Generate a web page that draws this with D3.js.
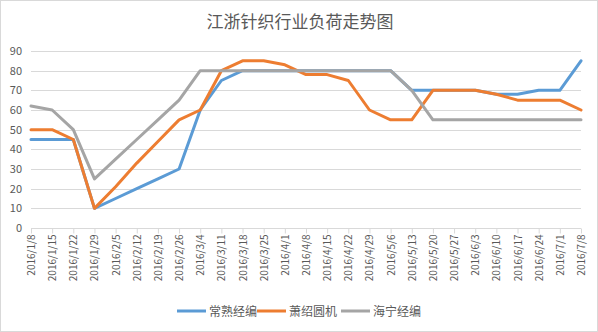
<!DOCTYPE html>
<html><head><meta charset="utf-8">
<script src="https://cdn.jsdelivr.net/npm/d3@7/dist/d3.min.js"></script>
<style>body{margin:0;background:#fff}svg{display:block;font-family:"Microsoft YaHei","Noto Sans CJK SC",sans-serif}</style>
</head><body><svg id="c" width="598" height="332"></svg>
<script>
const categories = ["2016/1/8","2016/1/15","2016/1/22","2016/1/29","2016/2/5","2016/2/12","2016/2/19","2016/2/26","2016/3/4","2016/3/11","2016/3/18","2016/3/25","2016/4/1","2016/4/8","2016/4/15","2016/4/22","2016/4/29","2016/5/6","2016/5/13","2016/5/20","2016/5/27","2016/6/3","2016/6/10","2016/6/17","2016/6/24","2016/7/1","2016/7/8"];
const changshu = [45,45,45,10,15,20,25,30,60,75,80,80,80,80,80,80,80,80,70,70,70,70,68,68,70,70,85];
const xiaoshao = [50,50,45,10,21,33,44,55,60,80,85,85,83,78,78,75,60,55,55,70,70,70,68,65,65,65,60];
const haining = [62,60,50,25,35,45,55,65,80,80,80,80,80,80,80,80,80,80,70,55,55,55,55,55,55,55,55];
const seriesNames = ["常熟经编","萧绍圆机","海宁经编"];
const colors = ["#5b9bd5","#ed7d31","#a5a5a5"];
const yTicks = [0,10,20,30,40,50,60,70,80,90];
const title = "江浙针织行业负荷走势图";

const svg = d3.select("#c");
svg.append("rect").attr("x",0.5).attr("y",0.5).attr("width",597).attr("height",331).attr("fill","#fff").attr("stroke","#d9d9d9");
const x = d3.scalePoint().domain(categories).range([31,581]);
const y = d3.scaleLinear().domain([0,90]).range([228,51]);

svg.append("text").attr("x",300).attr("y",28).attr("text-anchor","middle").attr("font-size",17).attr("fill","#595959").text(title);

const gy = svg.append("g");
gy.selectAll("line").data(yTicks.filter(d=>d>0)).join("line")
  .attr("x1",31).attr("x2",581).attr("y1",d=>Math.round(y(d))+0.5).attr("y2",d=>Math.round(y(d))+0.5)
  .attr("stroke","#d9d9d9").attr("stroke-width",1);
gy.selectAll("text").data(yTicks).join("text")
  .attr("x",22).attr("y",d=>y(d)+4).attr("text-anchor","end").attr("font-size",11).attr("fill","#595959").text(d=>d);

const xAxis = d3.axisBottom(x).tickSize(5).tickSizeOuter(0).tickFormat(d=>d);
const gx = svg.append("g").attr("transform",`translate(0,${Math.round(y(0))+0.5})`).call(xAxis);
gx.select(".domain").attr("stroke","#d9d9d9").attr("d","M31,0H581");
gx.selectAll(".tick line").attr("stroke","#d9d9d9");
gx.selectAll(".tick text").attr("transform","rotate(-90)").attr("text-anchor","end")
  .attr("x",-6).attr("y",0).attr("dy","0.35em").attr("font-size",10).attr("fill","#595959")
  .attr("font-family","Microsoft YaHei, Noto Sans CJK SC, sans-serif");

const line = d3.line().x((d,i)=>x(categories[i])).y(d=>y(d));
[changshu,xiaoshao,haining].forEach((s,k)=>{
  svg.append("path").datum(s).attr("d",line).attr("fill","none").attr("stroke",colors[k])
    .attr("stroke-width",3).attr("stroke-linejoin","round").attr("stroke-linecap","round");
});

const legX = [177,257,341];
const lg = svg.append("g");
seriesNames.forEach((n,k)=>{
  lg.append("line").attr("x1",legX[k]).attr("x2",legX[k]+29).attr("y1",311).attr("y2",311).attr("stroke",colors[k]).attr("stroke-width",3);
  lg.append("text").attr("x",legX[k]+32).attr("y",316).attr("font-size",12).attr("fill","#595959").text(n);
});
</script></body></html>
